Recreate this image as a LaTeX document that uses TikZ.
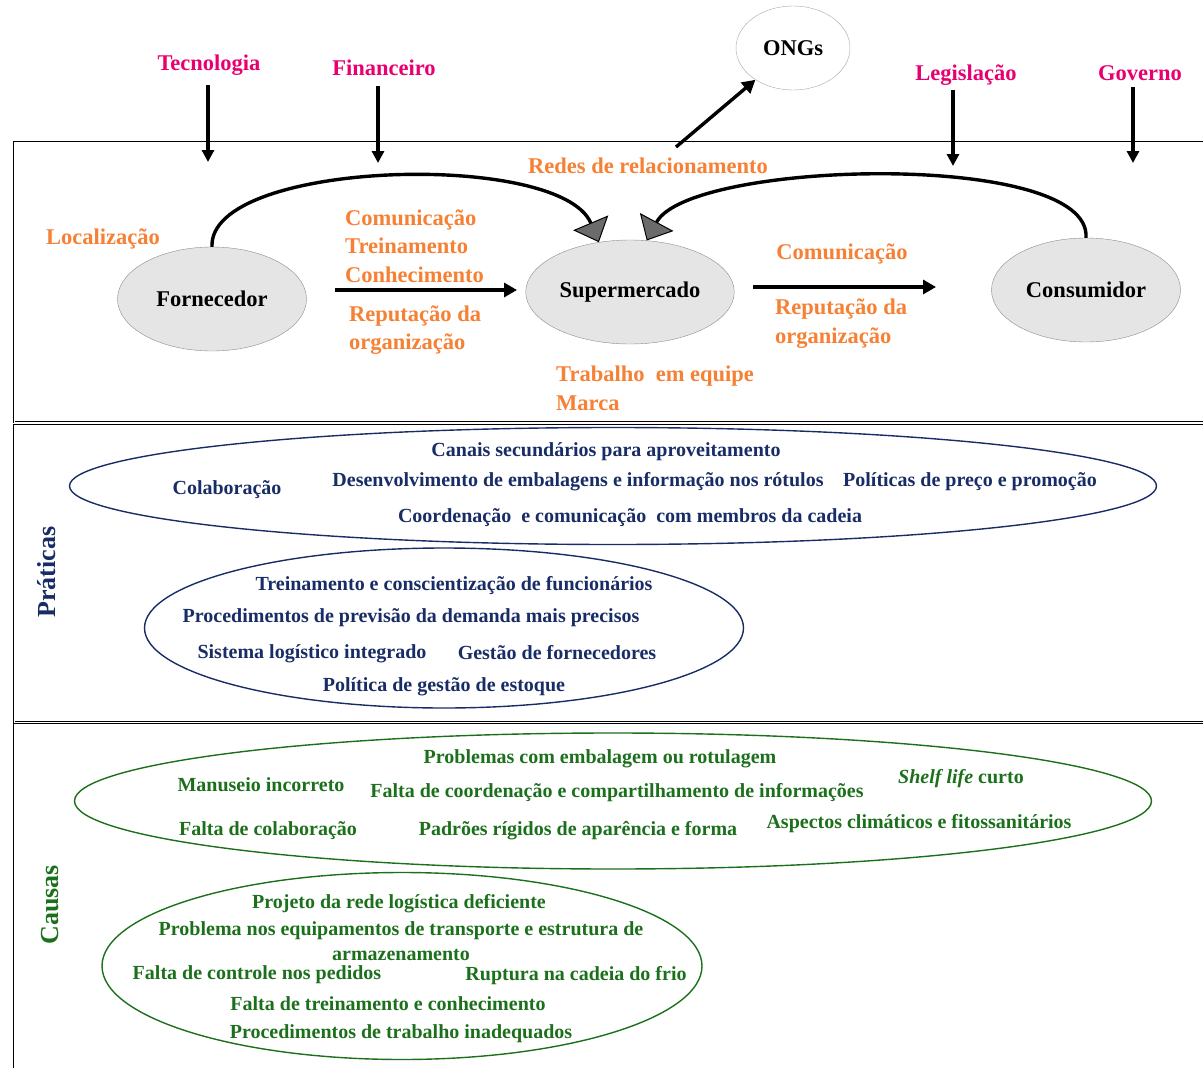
\documentclass[tikz,border=0pt]{standalone}
\usepackage{fontspec}
\setmainfont{Liberation Serif}
\usetikzlibrary{shapes.geometric, arrows.meta, positioning, calc}
\definecolor{extpink}{RGB}{232, 0, 112}
\definecolor{relorange}{RGB}{246, 128, 52}
\definecolor{pracblue}{RGB}{24, 44, 102}
\definecolor{causgreen}{RGB}{28, 112, 28}
\definecolor{actorgray}{RGB}{229, 229, 229}

\begin{document}
\begin{tikzpicture}[x=1pt, y=-1pt,
  ext/.style={text=extpink, inner sep=0pt, yshift=-2pt, font=\fontsize{22.5}{26}\selectfont\bfseries},
  rel/.style={text=relorange, inner sep=0pt, yshift=-1.5pt, align=left, font=\fontsize{22.5}{28.5}\selectfont\bfseries},
  actor/.style={ellipse, draw=black!45, fill=actorgray, minimum width=189pt, minimum height=104pt,
                font=\fontsize{22.5}{26}\selectfont\bfseries},
  prac/.style={text=pracblue, inner sep=0pt, yshift=-3pt, font=\fontsize{20}{24}\selectfont\bfseries},
  caus/.style={text=causgreen, inner sep=0pt, yshift=-3pt, align=center, font=\fontsize{20}{24.5}\selectfont\bfseries},
  group/.style={ellipse, line width=1.4pt},
  side/.style={rotate=90, inner sep=0pt, font=\fontsize{26}{30}\selectfont\bfseries},
  frame/.style={draw, double, double distance=1pt, line width=0.8pt},
  arr/.style={-{Triangle[width=12pt,length=12pt]}, line width=3.2pt},
  harr/.style={-{Triangle[width=14pt,length=13pt]}, line width=3.8pt},
  loop/.style={-{Triangle[width=38pt,length=21pt,fill=black!58,line width=1pt]}, line width=3.4pt}
]
  \clip (0,0) rectangle (1203,1068);

  \draw[frame] (14,142) rectangle (1220,422);
  \draw[frame] (14,425) rectangle (1220,722);
  \draw[frame] (14,724) rectangle (1220,1090);

  % external factors
  \node[ext] (tec) at (209,63) {Tecnologia};
  \node[ext] (fin) at (384,66) {Financeiro};
  \node[ext] (leg) at (966,73) {Legislação};
  \node[ext] (gov) at (1140,71) {Governo};
  \coordinate (tecend) at (208,162);
  \coordinate (finend) at (378,163);
  \coordinate (legend) at (953,166);
  \coordinate (govend) at (1133,163);
  \draw[arr, shorten <=10pt] (tec.south -| tecend) -- (tecend);
  \draw[arr, shorten <=10pt] (fin.south -| finend) -- (finend);
  \draw[arr, shorten <=4pt] (leg.south -| legend) -- (legend);
  \draw[arr, shorten <=6pt] (gov.south -| govend) -- (govend);

  \node[ellipse, draw=black!35, minimum width=114pt, minimum height=84pt,
        font=\fontsize{22.5}{26}\selectfont\bfseries] (ongs) at (793,48) {ONGs};
  \node[rel] (redes) at (648,164) {Redes de relacionamento};
  \coordinate (redesout) at (676,147);
  \draw[harr, line width=3.4pt] (redesout) -- (ongs);

  % chain
  \node[actor] (forn) at (212,299) {Fornecedor};
  \node[actor] (super) at (630,292) {Supermercado};
  \node[actor] (cons) at (1086,290) {Consumidor};

  \node[rel] (loc) at (103,237) {Localização};
  \node[rel, anchor=west] (flux1) at (345,244.5) {Comunicação\\Treinamento\\Conhecimento};
  \node[rel, anchor=west] (rep1) at (349,328.5) {Reputação da\\organização};
  \node[rel] (com2) at (842,252) {Comunicação};
  \node[rel, anchor=west] (rep2) at (775,322) {Reputação da\\organização};
  \node[rel, anchor=west] (trab) at (556,387) {Trabalho\ \ em equipe\\Marca};

  \coordinate (fs1) at (335,290);
  \coordinate (fs2) at (517,290);
  \coordinate (sc1) at (753,287);
  \coordinate (sc2) at (936,287);
  \draw[harr] (fs1) -- (fs2);
  \draw[harr] (sc1) -- (sc2);

  \draw[loop] (forn.north) .. controls (208,160) and (560,150) .. (super.122);
  \draw[loop] (cons.north) .. controls (1092,150) and (690,160) .. (super.72);

  % praticas
  \node[side, text=pracblue] (prat) at (47,572) {Práticas};
  \node[group, draw=pracblue, minimum width=1087pt, minimum height=117pt] (pe1) at (613,486) {};
  \node[group, draw=pracblue, minimum width=599pt, minimum height=160pt] (pe2) at (444,628) {};
  \node[prac] (p11) at (606,449) {Canais secundários para aproveitamento};
  \node[prac] (p12) at (227,487) {Colaboração};
  \node[prac] (p13) at (578,479) {Desenvolvimento de embalagens e informação nos rótulos};
  \node[prac] (p14) at (970,479) {Políticas de preço e promoção};
  \node[prac] (p15) at (630,515) {Coordenação\ \ e comunicação\ \ com membros da cadeia};
  \node[prac] (p21) at (454,583) {Treinamento e conscientização de funcionários};
  \node[prac] (p22) at (411,615) {Procedimentos de previsão da demanda mais precisos};
  \node[prac] (p23) at (312,651) {Sistema logístico integrado};
  \node[prac] (p24) at (557,650) {Gestão de fornecedores};
  \node[prac] (p25) at (444,684) {Política de gestão de estoque};

  % causas
  \node[side, text=causgreen] (caus) at (50,905) {Causas};
  \node[group, draw=causgreen, minimum width=1077pt, minimum height=136pt] (ce1) at (613,801) {};
  \node[group, draw=causgreen, minimum width=600pt, minimum height=187pt] (ce2) at (402,966) {};
  \node[caus] (c11) at (600,756) {Problemas com embalagem ou rotulagem};
  \node[caus] (c12) at (261,782) {Manuseio incorreto};
  \node[caus] (c13) at (617,790) {Falta de coordenação e compartilhamento de informações};
  \node[caus] (c14) at (961,776) {\textit{Shelf life} curto};
  \node[caus] (c15) at (268,828) {Falta de colaboração};
  \node[caus] (c16) at (578,828) {Padrões rígidos de aparência e forma};
  \node[caus] (c17) at (919,821) {Aspectos climáticos e fitossanitários};
  \node[caus] (c21) at (399,901) {Projeto da rede logística deficiente};
  \node[caus] (c22) at (401,938) {Problema nos equipamentos de transporte e estrutura de\\armazenamento};
  \node[caus] (c23) at (257,972) {Falta de controle nos pedidos};
  \node[caus] (c24) at (576,973) {Ruptura na cadeia do frio};
  \node[caus] (c25) at (388,1001) {Falta de treinamento e conhecimento};
  \node[caus] (c26) at (401,1031) {Procedimentos de trabalho inadequados};
\end{tikzpicture}
\end{document}
